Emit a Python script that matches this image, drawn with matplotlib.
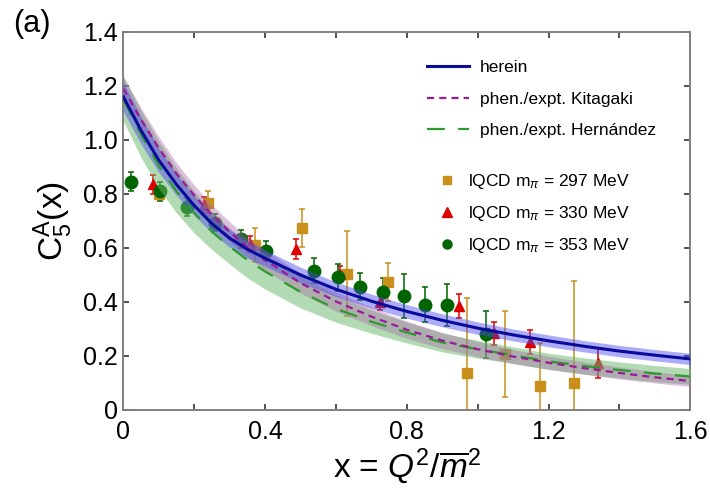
import numpy as np
import matplotlib
matplotlib.use('Agg')
import matplotlib.pyplot as plt
from matplotlib.lines import Line2D

plt.rcParams['font.family'] = ['Liberation Sans', 'DejaVu Sans']
plt.rcParams['mathtext.fontset'] = 'custom'
plt.rcParams['mathtext.rm'] = 'Liberation Sans'
plt.rcParams['mathtext.it'] = 'Liberation Sans:italic'
plt.rcParams['mathtext.bf'] = 'Liberation Sans:bold'

# curves
x_curve = [0, 0.05, 0.1, 0.15, 0.2, 0.25, 0.3, 0.35, 0.4, 0.5, 0.6, 0.7,
           0.8, 0.9, 1.0, 1.1, 1.2, 1.3, 1.4, 1.5, 1.6]
herein = [1.160, 1.035, 0.925, 0.835, 0.757, 0.690, 0.636, 0.595, 0.562, 0.500, 0.447,
          0.403, 0.365, 0.332, 0.303, 0.278, 0.256, 0.236, 0.218, 0.203, 0.189]
herein_lo = [1.105, 0.985, 0.880, 0.795, 0.720, 0.655, 0.603, 0.563, 0.532, 0.471, 0.420,
             0.377, 0.340, 0.308, 0.280, 0.256, 0.234, 0.215, 0.197, 0.182, 0.168]
herein_hi = [1.215, 1.085, 0.970, 0.875, 0.794, 0.725, 0.669, 0.627, 0.592, 0.529, 0.474,
             0.429, 0.390, 0.356, 0.326, 0.300, 0.278, 0.257, 0.239, 0.224, 0.210]

kitagaki = [1.190, 1.075, 0.970, 0.875, 0.795, 0.722, 0.660, 0.603, 0.555, 0.470, 0.402,
            0.346, 0.297, 0.257, 0.225, 0.198, 0.175, 0.155, 0.137, 0.121, 0.107]
kitagaki_lo = [1.145, 1.032, 0.928, 0.835, 0.757, 0.685, 0.623, 0.567, 0.518, 0.433, 0.366,
               0.312, 0.265, 0.227, 0.197, 0.172, 0.151, 0.132, 0.115, 0.100, 0.087]
kitagaki_hi = [1.235, 1.118, 1.012, 0.915, 0.833, 0.759, 0.697, 0.639, 0.592, 0.507, 0.438,
               0.380, 0.329, 0.287, 0.253, 0.224, 0.199, 0.178, 0.159, 0.142, 0.127]

hernandez = [1.150, 1.020, 0.905, 0.810, 0.730, 0.660, 0.605, 0.556, 0.513, 0.437, 0.375,
             0.327, 0.287, 0.250, 0.225, 0.203, 0.180, 0.163, 0.148, 0.135, 0.124]
hernandez_lo = [1.070, 0.935, 0.820, 0.730, 0.655, 0.594, 0.540, 0.489, 0.448, 0.378, 0.325,
                0.284, 0.248, 0.215, 0.192, 0.172, 0.150, 0.133, 0.118, 0.105, 0.095]
hernandez_hi = [1.235, 1.110, 0.995, 0.895, 0.810, 0.735, 0.672, 0.620, 0.577, 0.497, 0.425,
                0.370, 0.326, 0.285, 0.258, 0.234, 0.210, 0.193, 0.178, 0.165, 0.153]

# lattice points
x297 = [0.10, 0.24, 0.372, 0.504, 0.631, 0.747, 0.969, 1.078, 1.176, 1.273]
y297 = [0.80, 0.765, 0.611, 0.673, 0.504, 0.474, 0.136, 0.207, 0.090, 0.099]
e297 = [0.02, 0.045, 0.062, 0.07, 0.157, 0.072, 0.278, 0.16, 0.157, 0.38]

x330 = [0.083, 0.228, 0.358, 0.488, 0.612, 0.723, 0.946, 1.047, 1.148, 1.339]
y330 = [0.836, 0.760, 0.614, 0.596, 0.505, 0.401, 0.386, 0.284, 0.253, 0.173]
e330 = [0.035, 0.03, 0.03, 0.038, 0.03, 0.03, 0.045, 0.042, 0.045, 0.055]

x353 = [0.022, 0.104, 0.179, 0.259, 0.332, 0.404, 0.539, 0.605, 0.669, 0.732, 0.792, 0.852, 0.912, 1.024]
y353 = [0.846, 0.810, 0.753, 0.694, 0.632, 0.589, 0.516, 0.491, 0.457, 0.436, 0.422, 0.389, 0.388, 0.280]
e353 = [0.035, 0.035, 0.033, 0.032, 0.033, 0.038, 0.046, 0.049, 0.049, 0.054, 0.082, 0.065, 0.078, 0.088]

navy = '#0a0a9c'
purple = '#9a1a9a'
dgreen = '#2e9a2e'
gold = '#c8901a'
red = '#dd0000'
green = '#006400'

fig = plt.figure(figsize=(7.1, 4.91), dpi=100)
ax = fig.add_axes([0.1737, 0.165, 0.7986, 0.770])

# data points (drawn under the translucent bands)
ax.errorbar(x297, y297, yerr=e297, fmt='s', color=gold, ms=6.5, capsize=2,
            elinewidth=1.1, capthick=1.1, zorder=2)
ax.errorbar(x330, y330, yerr=e330, fmt='^', color=red, ms=7.5, capsize=2,
            elinewidth=1.1, capthick=1.1, zorder=2)
ax.errorbar(x353, y353, yerr=e353, fmt='o', color=green, ms=9, capsize=2,
            elinewidth=1.1, capthick=1.1, zorder=2)

ax.fill_between(x_curve, hernandez_lo, hernandez_hi, color='#69b969', alpha=0.5, lw=0, zorder=3)
ax.fill_between(x_curve, kitagaki_lo, kitagaki_hi, color='#a868a8', alpha=0.4, lw=0, zorder=3)
ax.fill_between(x_curve, herein_lo, herein_hi, color='#4848ee', alpha=0.45, lw=0, zorder=3)

ax.plot(x_curve, hernandez, color=dgreen, lw=1.6, dashes=(8, 6), zorder=4)
ax.plot(x_curve, kitagaki, color=purple, lw=1.6, dashes=(3.2, 2.3), zorder=4)
ax.plot(x_curve, herein, color=navy, lw=2.2, zorder=5)

ax.set_xlim(0, 1.6)
ax.set_ylim(0, 1.4)
ax.set_xticks([0, 0.4, 0.8, 1.2, 1.6])
ax.set_xticklabels(['0', '0.4', '0.8', '1.2', '1.6'])
ax.set_xticks([0.2, 0.6, 1.0, 1.4], minor=True)
ax.set_yticks([0, 0.2, 0.4, 0.6, 0.8, 1.0, 1.2, 1.4])
ax.set_yticklabels(['0', '0.2', '0.4', '0.6', '0.8', '1.0', '1.2', '1.4'])
ax.tick_params(which='both', direction='in', top=True, right=True, length=4,
               width=1.2, color='#333333', labelsize=18)
ax.tick_params(axis='x', pad=7)
ax.tick_params(axis='y', pad=4)
for sp in ax.spines.values():
    sp.set_color('#808080')
    sp.set_linewidth(1.4)

ax.set_xlabel(r'x = $Q^2/\overline{m}^2$', fontsize=24, labelpad=2)
ax.set_ylabel(r'$\mathrm{C}_5^{\mathrm{A}}$(x)', fontsize=24, labelpad=6)

fig.text(0.045, 0.952, '(a)', fontsize=22, ha='center', va='center')

# legends
line_handles = [Line2D([], [], color=navy, lw=2.2),
                Line2D([], [], color=purple, lw=1.6, dashes=(3.2, 2.3)),
                Line2D([], [], color=dgreen, lw=1.6, dashes=(8, 6))]
line_labels = ['herein', 'phen./expt. Kitagaki', 'phen./expt. Hern\u00e1ndez']
leg1 = ax.legend(line_handles, line_labels, loc='upper left', bbox_to_anchor=(0.536, 0.926),
                 frameon=False, fontsize=12.5, borderpad=0, borderaxespad=0,
                 handlelength=2.4, handletextpad=0.65, labelspacing=0.95)
ax.add_artist(leg1)

mark_handles = [Line2D([], [], ls='none', marker='s', color=gold, ms=6),
                Line2D([], [], ls='none', marker='^', color=red, ms=6.5),
                Line2D([], [], ls='none', marker='o', color=green, ms=6.5)]
mark_labels = [r'lQCD m$_\pi$ = 297 MeV', r'lQCD m$_\pi$ = 330 MeV', r'lQCD m$_\pi$ = 353 MeV']
ax.legend(mark_handles, mark_labels, loc='upper left', bbox_to_anchor=(0.555, 0.63),
          frameon=False, fontsize=12.5, borderpad=0, borderaxespad=0,
          handlelength=1.0, handletextpad=0.7, labelspacing=0.75)

fig.savefig('out.png', dpi=100)
